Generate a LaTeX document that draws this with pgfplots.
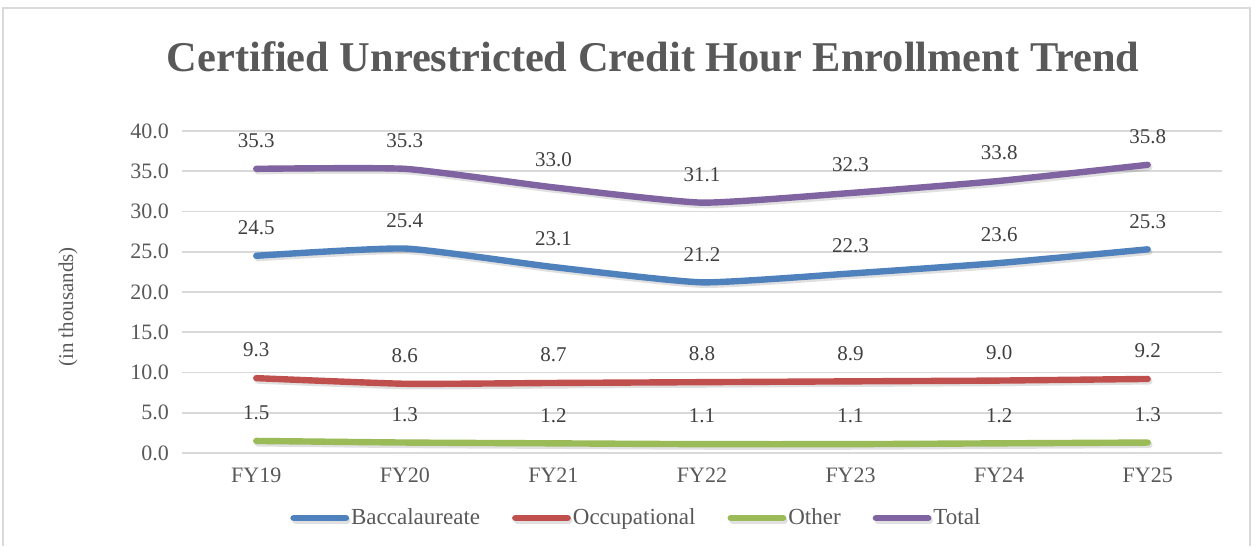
\documentclass[border=0pt]{standalone}
\usepackage{fontspec}
\setmainfont{Liberation Serif}
\usepackage{pgfplots}
\pgfplotsset{compat=1.18}

\definecolor{bacc}{HTML}{4F81BD}
\definecolor{occu}{HTML}{C0504D}
\definecolor{othr}{HTML}{9BBB59}
\definecolor{totl}{HTML}{8064A2}
\definecolor{txtgray}{HTML}{595959}
\definecolor{lblgray}{HTML}{404040}
\definecolor{gridgray}{HTML}{D9D9D9}

\begin{document}
\begin{tikzpicture}
% frame of the chart area
\useasboundingbox (-91pt,-46.5pt) rectangle (537pt,226.5pt);
\draw[gridgray, line width=0.6pt] (-89.5pt,-46.5pt) -- (-89.5pt,222.5pt) -- (534pt,222.5pt) -- (534pt,-46.5pt);

\begin{axis}[
  scale only axis,
  width=520pt, height=161pt,
  at={(0,0)}, anchor=south west,
  xmin=-0.5, xmax=6.5,
  ymin=0, ymax=40,
  ytick={0,5,...,40},
  xtick={0,...,6},
  xticklabels={FY19,FY20,FY21,FY22,FY23,FY24,FY25},
  axis line style={draw=none},
  major tick length=0pt,
  ymajorgrids,
  grid style={gridgray, line width=0.8pt},
  tick label style={font=\fontsize{11}{13}\selectfont, text=txtgray},
  yticklabel style={xshift=-3pt},
  xticklabel style={yshift=-4pt},
  /pgf/number format/assume math mode=true,
  /pgf/number format/.cd, fixed, fixed zerofill, precision=1, /pgfplots/.cd,
  clip=false,
  nodes near coords,
  every node near coord/.append style={font=\fontsize{10.5}{12}\selectfont, text=lblgray, anchor=center, yshift=14pt},
  legend style={at={(0.1038,-0.2019)}, anchor=west, draw=none, legend columns=4,
    inner sep=0pt, font=\fontsize{11.5}{13}\selectfont, text=txtgray,
    /tikz/every even column/.append style={column sep=14pt},
    /tikz/every odd column/.append style={column sep=-1pt}},
  legend image code/.code={\draw[#1, line cap=round, line width=3.4pt] (0pt,0pt) -- (26pt,0pt);},
  every axis plot/.append style={line width=3.2pt, line cap=round, smooth, tension=0.3, mark=none,
    preaction={draw=black, opacity=0.12, transform canvas={xshift=0.8pt, yshift=-1.2pt}}},
]
\addplot[bacc] coordinates {(0,24.5) (1,25.4) (2,23.1) (3,21.2) (4,22.3) (5,23.6) (6,25.3)};
\addlegendentry{Baccalaureate}
\addplot[occu] coordinates {(0,9.3) (1,8.6) (2,8.7) (3,8.8) (4,8.9) (5,9.0) (6,9.2)};
\addlegendentry{Occupational}
\addplot[othr] coordinates {(0,1.5) (1,1.3) (2,1.2) (3,1.1) (4,1.1) (5,1.2) (6,1.3)};
\addlegendentry{Other}
\addplot[totl] coordinates {(0,35.3) (1,35.3) (2,33.0) (3,31.1) (4,32.3) (5,33.8) (6,35.8)};
\addlegendentry{Total}
\end{axis}

\node[font=\fontsize{10.5}{12}\selectfont, text=txtgray, rotate=90] at (-57pt,73pt) {(in thousands)};
\node[font=\fontsize{21.2}{25}\selectfont\bfseries, text=txtgray] at (235.5pt,198pt) {Certified Unrestricted Credit Hour Enrollment Trend};
\end{tikzpicture}
\end{document}
